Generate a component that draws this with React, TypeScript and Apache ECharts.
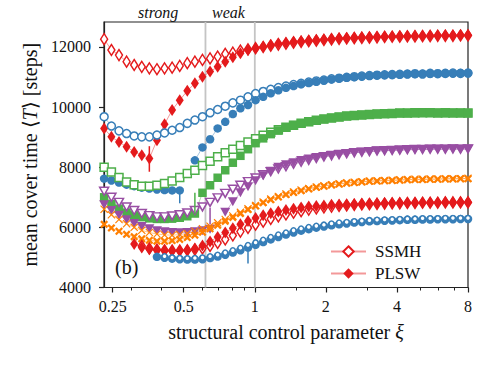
import React, { useEffect, useRef } from "react";
import * as echarts from "echarts";

const FONT = "'Liberation Serif', serif";

const XI = [0.230,0.2469,0.2659,0.2863,0.3083,0.3320,0.3575,0.3850,0.4146,0.4464,0.4808,0.5176,0.5574,0.6002,0.6463,0.6960,0.7494,0.8070,0.8690,0.9357,1.0076,1.085,1.168,1.258,1.355,1.459,1.571,1.692,1.822,1.962,2.113,2.275,2.450,2.638,2.840,3.059,3.294,3.547,3.819,4.113,4.429,4.770,5.136,5.530,5.955,6.413,6.906,7.437,8.0];

const X_TICKS = [0.25, 0.5, 1, 2, 4, 8];
const X_MINOR = [0.3, 0.4, 0.6, 0.7, 0.8, 0.9, 1.5, 3, 5, 6, 7];
const Y_TICKS = [4000, 6000, 8000, 10000, 12000];
const REGIME_LINES = [0.618, 1];

const RED_OPEN_A = [12260,11900,11730,11510,11400,11340,11290,11260,11290,11310,11370,11460,11510,11570,11620,11680,11770,11810,11880,11920,11960,12000,12040,12080,12110,12140,12170,12190,12210,12230,12250,12270,12280,12290,12300,12310,12320,12330,12340,12340,12350,12350,12360,12360,12370,12370,12370,12380,12380];
const RED_FILL_A = [9290,9010,8840,8680,8510,8400,8290,8900,9430,9900,10230,10540,10790,11010,11180,11340,11510,11660,11790,11900,11960,12010,12070,12120,12150,12180,12200,12220,12240,12260,12280,12300,12310,12320,12330,12340,12350,12360,12360,12370,12370,12380,12380,12390,12390,12400,12390,12400,12400];
const BLUE_OPEN_A = [9680,9370,9210,9120,9040,9010,9010,9070,9140,9230,9320,9460,9570,9680,9810,9920,10030,10140,10230,10340,10450,10520,10590,10650,10700,10750,10790,10830,10870,10900,10940,10960,10990,11010,11030,11050,11060,11070,11080,11090,11100,11110,11100,11120,11110,11120,11130,11120,11130];
const BLUE_FILL_A = [7620,7560,7490,7420,7370,7320,7290,7260,7240,7230,7230,null,8230,8660,8930,9290,9510,9770,9960,10070,10230,10340,10460,10560,10640,10700,10760,10800,10840,10880,10920,10950,10980,11000,11020,11040,11060,11070,11080,11090,11100,11100,11110,11110,11120,11120,11120,11130,11130];
const GREEN_OPEN = [8000,7840,7660,7510,7420,7370,7370,7400,7460,7540,7660,7790,7900,8060,8200,8350,8480,8600,8720,8840,8950,9060,9160,9250,9330,9400,9460,9510,9560,9600,9640,9670,9700,9720,9740,9750,9770,9780,9790,9800,9800,9810,9810,9810,9800,9810,9800,9800,9800];
const GREEN_FILL = [7000,6780,6620,6490,6400,6340,6300,6280,6280,6290,6320,6370,6460,7150,7400,7650,7900,8150,8380,8600,8800,8960,9100,9220,9320,9400,9460,9510,9560,9600,9640,9670,9700,9720,9740,9760,9770,9780,9790,9800,9800,9800,9810,9810,9810,9800,9810,9810,9800];
const PURPLE_OPEN = [7200,7000,6830,6680,6560,6460,6390,6350,6350,6380,6420,6480,6560,6680,6830,6980,7130,7270,7400,7520,7640,7750,7850,7940,8020,8100,8170,8230,8290,8340,8380,8420,8450,8480,8500,8520,8540,8550,8560,8570,8580,8590,8590,8600,8600,8600,8610,8600,8610];
const PURPLE_FILL = [6750,6560,6400,6250,6130,6030,5950,5890,5850,5830,5820,5830,5850,5890,5940,null,6500,6850,7150,7350,7550,7720,7870,8000,8080,8150,8220,8270,8320,8360,8400,8430,8460,8480,8500,8520,8540,8550,8560,8570,8580,8590,8590,8600,8600,8600,8610,8600,8610];
const ORANGE_OPEN = [6600,6420,6260,6120,6000,5900,5830,5780,5750,5740,5760,5800,5870,5950,6040,6150,6260,6380,6500,6620,6730,6840,6940,7030,7110,7180,7240,7290,7340,7380,7420,7450,7480,7500,7520,7540,7550,7560,7570,7580,7590,7600,7600,7610,7610,7620,7620,7620,7630];
const ORANGE_FILL = [6100,5980,5870,5770,5690,5620,5570,5540,5540,5560,5600,5660,5740,5840,5950,6070,6200,6330,6460,6590,6710,6820,6920,7010,7090,7160,7220,7280,7330,7370,7410,7440,7470,7490,7510,7530,7540,7550,7560,7570,7580,7590,7590,7600,7600,7610,7610,7620,7620];
const RED_OPEN_B = [null,null,null,null,null,5380,5300,5260,5240,5230,5230,5240,5260,5300,5380,5480,5600,5730,5860,5980,6090,6190,6280,6360,6430,6490,6540,6590,6630,6660,6690,6710,6730,6750,6760,6770,6780,6790,6800,6800,6810,6810,6820,6820,6820,6830,6830,6830,6830];
const RED_FILL_B = [null,null,null,null,5450,5330,5270,5240,5220,5210,5220,5240,5300,5400,5530,5680,5830,5970,6100,6210,6310,6400,6470,6530,6580,6620,6660,6690,6710,6730,6750,6760,6770,6780,6790,6800,6800,6810,6810,6820,6820,6820,6830,6830,6830,6840,6830,6840,6840];
const BLUE_OPEN_B = [null,null,null,null,null,null,null,null,5040,5000,4980,4970,4980,5000,5040,5090,5160,5240,5320,5410,5500,5590,5680,5760,5830,5900,5960,6010,6050,6090,6130,6160,6180,6200,6220,6240,6250,6260,6270,6280,6290,6290,6300,6300,6300,6310,6310,6310,6310];
const BLUE_FILL_B = [null,null,null,null,null,null,null,5020,4990,4960,4940,4930,4930,4940,4980,5030,5090,5160,5240,5330,5420,5510,5600,5680,5760,5830,5890,5940,5990,6030,6070,6100,6130,6160,6180,6200,6210,6220,6230,6240,6250,6250,6260,6260,6270,6270,6270,6280,6280];

const ERR_X = [0.3575, 0.4808, 0.5574, 0.6463, 0.9357];
const ERR_LO = [7850, 6800, 6450, 6100, 4800];
const ERR_HI = [8700, 7300, 7150, 6650, 5350];

const RED = "#e41a1c";
const BLUE = "#377eb8";
const GREEN = "#4daf4a";
const PURPLE = "#984ea3";
const ORANGE = "#ff7f00";
const ERR_COLORS = [RED, BLUE, GREEN, PURPLE, BLUE];

const X_THIN = "path://M1,0 L5,4 L9,0 L10,1 L6,5 L10,9 L9,10 L5,6 L1,10 L0,9 L4,5 L0,1 Z";
const X_THICK = "path://M2,0 L5,3 L8,0 L10,2 L7,5 L10,8 L8,10 L5,7 L2,10 L0,8 L3,5 L0,2 Z";

function mk(name: string, ys: (number | null)[], color: string, symbol: string, size: any, open: boolean, rotate = 0, z = 2) {
  return {
    type: "line",
    name,
    data: XI.map((x, i) => [x, ys[i] == null ? "-" : ys[i]]),
    symbol,
    symbolSize: size,
    symbolRotate: rotate,
    showSymbol: true,
    connectNulls: false,
    clip: true,
    z,
    lineStyle: { color, width: 1, opacity: 0.45 },
    itemStyle: open
      ? { color: "#ffffff", borderColor: color, borderWidth: 1.5 }
      : { color, borderColor: color, borderWidth: 0 },
    emphasis: { disabled: true },
  };
}

const rt = (size: number, italic = false) => ({ fontFamily: FONT, fontSize: size, color: "#111", fontStyle: italic ? "italic" : "normal" });

export default function App() {
  const ref = useRef<HTMLDivElement>(null);
  useEffect(() => {
    if (!ref.current) return;
    const chart = echarts.init(ref.current, undefined, { renderer: "svg" });
    const axisColor = "#222";
    const option: any = {
      animation: false,
      backgroundColor: "#ffffff",
      textStyle: { fontFamily: FONT },
      grid: { left: 104, top: 22, width: 364, height: 265.5, show: true, borderColor: axisColor, borderWidth: 1.2, backgroundColor: "transparent" },
      legend: {
        data: ["SSMH", "PLSW"],
        orient: "vertical",
        left: 325,
        top: 238,
        itemWidth: 35,
        itemHeight: 13,
        itemGap: 5,
        formatter: (n: string) => "{t|" + n + "}",
        textStyle: { fontFamily: FONT, fontSize: 17, color: "#111", rich: { t: { ...rt(17), padding: [0, 0, 0, 4] } } },
      },
      xAxis: [
        {
          type: "log",
          logBase: 2,
          min: 0.2297,
          max: 8,
          axisLine: { show: true, lineStyle: { color: axisColor, width: 1.2 } },
          axisTick: { show: true, inside: false, length: 5, customValues: X_TICKS, lineStyle: { color: axisColor, width: 1.2 } },
          axisLabel: {
            customValues: X_TICKS,
            formatter: (v: number) => "{t|" + String(+(+v).toPrecision(3)) + "}",
            rich: { t: rt(16) },
            fontFamily: FONT, fontSize: 16, color: "#111", margin: 11,
          },
          splitLine: { show: false },
          name: "structural control parameter {i|ξ}",
          nameLocation: "middle",
          nameGap: 34,
          nameTextStyle: { fontFamily: FONT, fontSize: 20, color: "#111", rich: { i: rt(20, true) } },
        },
        {
          type: "log",
          logBase: 2,
          min: 0.2297,
          max: 8,
          position: "bottom",
          axisLine: { show: false },
          axisTick: { show: true, inside: false, length: 3, customValues: X_MINOR, lineStyle: { color: axisColor, width: 1 } },
          axisLabel: { show: false },
          splitLine: { show: false },
        },
      ],
      yAxis: {
        type: "value",
        min: 4000,
        max: 12830,
        axisLine: { show: true, lineStyle: { color: axisColor, width: 1.2 } },
        axisTick: { show: true, inside: false, length: 5, customValues: Y_TICKS, lineStyle: { color: axisColor, width: 1.2 } },
        axisLabel: {
          customValues: Y_TICKS,
          formatter: (v: number) => "{t|" + String(v) + "}",
          rich: { t: rt(16) },
          fontFamily: FONT, fontSize: 16, color: "#111", margin: 13,
        },
        splitLine: { show: false },
        name: "mean cover time ⟨{i|T}⟩ [steps]",
        nameLocation: "middle",
        nameGap: 61,
        nameTextStyle: { fontFamily: FONT, fontSize: 20, color: "#111", rich: { i: rt(20, true) } },
      },
      graphic: [
        { type: "text", left: 138, top: 4, style: { text: "strong", fontFamily: FONT, fontStyle: "italic", fontSize: 16, fill: "#111" } },
        { type: "text", left: 212, top: 4, style: { text: "weak", fontFamily: FONT, fontStyle: "italic", fontSize: 16, fill: "#111" } },
        { type: "text", left: 115, top: 257, style: { text: "(b)", fontFamily: FONT, fontSize: 20, fill: "#111" } },
      ],
      series: [
        {
          type: "custom",
          name: "regimes",
          coordinateSystem: "cartesian2d",
          data: REGIME_LINES.map((x) => [x, 4000, 12830]),
          encode: { x: 0, y: [1, 2] },
          z: 1,
          silent: true,
          renderItem: (params: any, api: any) => {
            const p1 = api.coord([api.value(0), api.value(1)]);
            const p2 = api.coord([api.value(0), api.value(2)]);
            return { type: "line", shape: { x1: p1[0], y1: p1[1], x2: p2[0], y2: p2[1] }, style: { stroke: "#c4c4c4", lineWidth: 1.8 } };
          },
        },
        mk("SSMH", RED_OPEN_A, RED, "diamond", [7, 11], true),
        mk("PLSW", RED_FILL_A, RED, "diamond", [8, 12], false),
        mk("b1o", BLUE_OPEN_A, BLUE, "circle", 8, true),
        mk("b1f", BLUE_FILL_A, BLUE, "circle", 8.5, false),
        mk("g1o", GREEN_OPEN, GREEN, "rect", 8, true),
        mk("g1f", GREEN_FILL, GREEN, "rect", 8.5, false),
        mk("p1o", PURPLE_OPEN, PURPLE, "triangle", [9, 8], true, 180),
        mk("p1f", PURPLE_FILL, PURPLE, "triangle", [10, 9], false, 180),
        mk("o1o", ORANGE_OPEN, ORANGE, X_THIN, 8, false),
        mk("o1f", ORANGE_FILL, ORANGE, X_THICK, 8, false),
        mk("r2o", RED_OPEN_B, RED, "diamond", [7, 11], true),
        mk("r2f", RED_FILL_B, RED, "diamond", [8, 12], false),
        mk("b2f", BLUE_FILL_B, BLUE, "circle", 8.5, false),
        mk("b2o", BLUE_OPEN_B, BLUE, "circle", 5, true),
        {
          type: "custom",
          name: "errors",
          coordinateSystem: "cartesian2d",
          data: ERR_X.map((x, i) => [x, ERR_LO[i], ERR_HI[i], i]),
          encode: { x: 0, y: [1, 2] },
          z: 3,
          silent: true,
          renderItem: (params: any, api: any) => {
            const p1 = api.coord([api.value(0), api.value(1)]);
            const p2 = api.coord([api.value(0), api.value(2)]);
            return { type: "line", shape: { x1: p1[0], y1: p1[1], x2: p2[0], y2: p2[1] }, style: { stroke: ERR_COLORS[api.value(3)], lineWidth: 1.5 } };
          },
        },
      ],
    };
    chart.setOption(option);
    return () => chart.dispose();
  }, []);
  return <div ref={ref} style={{ width: 491, height: 368, position: "absolute", left: 0, top: 0 }} />;
}
